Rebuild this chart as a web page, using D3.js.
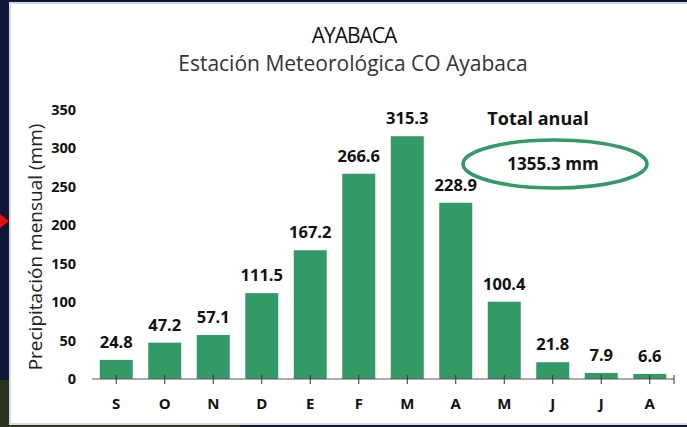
<!DOCTYPE html>
<html>
<head>
<meta charset="utf-8">
<script src="https://cdn.jsdelivr.net/npm/d3@7"></script>
<style>
 body { margin: 0; background: #0f1535; }
 svg { display: block; }
</style>
</head>
<body>
<div id="chart"></div>
<script>
const months = ["S", "O", "N", "D", "E", "F", "M", "A", "M", "J", "J", "A"];
const precip = [24.8, 47.2, 57.1, 111.5, 167.2, 266.6, 315.3, 228.9, 100.4, 21.8, 7.9, 6.6];
const yTicks = [0, 50, 100, 150, 200, 250, 300, 350];

const W = 687, H = 427;
const green = "#339966";
const font = "'Open Sans', sans-serif";

const svg = d3.select("#chart").append("svg")
 .attr("width", W).attr("height", H);

// backdrop: slide behind the chart panel
svg.append("rect").attr("width", W).attr("height", H).attr("fill", "#10163a");
svg.append("rect").attr("x", 0).attr("y", 380).attr("width", 240).attr("height", 47).attr("fill", "#2c3420");
svg.append("path").attr("d", "M0,214 L9,221 L0,228 Z").attr("fill", "#e01010");
svg.append("rect").attr("x", 9).attr("y", 2).attr("width", W - 9).attr("height", 423).attr("fill", "#d9d9d9");
svg.append("rect").attr("x", 11).attr("y", 4).attr("width", W - 11).attr("height", 419).attr("fill", "#fff");

const x = d3.scaleBand().domain(d3.range(months.length)).range([92, 674]).paddingInner(0.32).paddingOuter(0.16);
const y = d3.scaleLinear().domain([0, 350]).range([379, 109.5]);

// bars
svg.selectAll("rect.bar").data(precip).enter().append("rect")
 .attr("class", "bar")
 .attr("x", (d, i) => x(i))
 .attr("width", x.bandwidth())
 .attr("y", d => y(d))
 .attr("height", d => y(0) - y(d))
 .attr("fill", green);

// value labels
svg.selectAll("text.val").data(precip).enter().append("text")
 .attr("class", "val")
 .attr("x", (d, i) => x(i) + x.bandwidth() / 2)
 .attr("y", d => y(d) - 12)
 .attr("text-anchor", "middle")
 .style("font-family", font).style("font-weight", "bold").style("font-size", "16.5px")
 .attr("fill", "#111")
 .text(d => d.toFixed(1));

// x axis
const xAxis = svg.append("g").attr("transform", `translate(0,${y(0)})`);
xAxis.append("line").attr("x1", 92).attr("x2", 674).attr("stroke", "#595959").attr("stroke-width", 1.2);
const tickX = months.map((m, i) => x(i) + x.bandwidth() / 2).concat([674]);
xAxis.selectAll("line.tk").data(tickX).enter().append("line")
 .attr("x1", d => d).attr("x2", d => d).attr("y1", -4).attr("y2", 5)
 .attr("stroke", "#333").attr("stroke-width", 1);
xAxis.selectAll("text").data(months).enter().append("text")
 .attr("x", (d, i) => x(i) + x.bandwidth() / 2)
 .attr("y", 30)
 .attr("text-anchor", "middle")
 .style("font-family", font).style("font-weight", "bold").style("font-size", "15px")
 .attr("fill", "#111")
 .text(d => d);

// y axis labels (no line)
const yAxis = svg.append("g").attr("transform", "translate(76,0)")
 .call(d3.axisLeft(y).tickValues(yTicks).tickSize(0).tickPadding(0));
yAxis.select(".domain").remove();
yAxis.selectAll("text")
 .style("font-family", font).style("font-weight", "bold").style("font-size", "14.5px")
 .attr("fill", "#111");

svg.append("text")
 .attr("transform", "translate(42,247) rotate(-90)")
 .attr("text-anchor", "middle")
 .style("font-family", font).style("font-size", "19px")
 .attr("fill", "#222")
 .text("Precipitación mensual (mm)");

// titles
svg.append("text").attr("x", 354).attr("y", 43).attr("text-anchor", "middle")
 .style("font-family", font).style("font-size", "21px").attr("fill", "#111")
 .attr("letter-spacing", "-1")
 .text("AYABACA");
svg.append("text").attr("x", 353).attr("y", 71).attr("text-anchor", "middle")
 .style("font-family", font).style("font-size", "21px").attr("fill", "#333")
 .text("Estación Meteorológica CO Ayabaca");

// annual total annotation
svg.append("text").attr("x", 538).attr("y", 125).attr("text-anchor", "middle")
 .style("font-family", font).style("font-weight", "bold").style("font-size", "18px").attr("fill", "#111")
 .text("Total anual");
svg.append("ellipse").attr("cx", 555).attr("cy", 164).attr("rx", 92).attr("ry", 24)
 .attr("fill", "none").attr("stroke", green).attr("stroke-width", 3.5);
svg.append("text").attr("x", 553).attr("y", 170).attr("text-anchor", "middle")
 .style("font-family", font).style("font-weight", "bold").style("font-size", "17px").attr("fill", "#111")
 .text(`${d3.sum(precip).toFixed(1)} mm`);
</script>
</body>
</html>
